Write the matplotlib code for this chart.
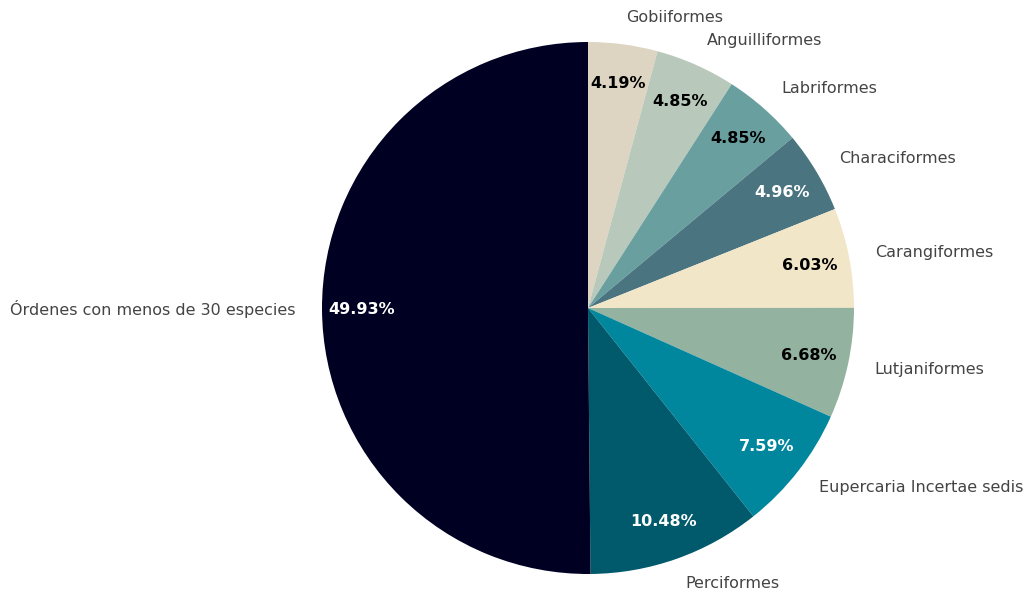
import matplotlib
matplotlib.use("Agg")
import matplotlib.pyplot as plt

plt.rcParams['font.family'] = ['DejaVu Sans']

ordenes = ['Gobiiformes', 'Anguilliformes', 'Labriformes', 'Characiformes',
           'Carangiformes', 'Lutjaniformes', 'Eupercaria Incertae sedis',
           'Perciformes', 'Órdenes con menos de 30 especies']
porcentajes = [4.19, 4.85, 4.85, 4.96, 6.03, 6.68, 7.59, 10.48, 49.93]
colores = ['#ddd5c2', '#b8c9bb', '#6a9fa0', '#4a7480', '#f2e6c8',
           '#94b2a0', '#00879e', '#005a6c', '#000022']
color_texto = ['black', 'black', 'black', 'white', 'black',
               'black', 'white', 'white', 'white']

total = sum(porcentajes)

fig = plt.figure(figsize=(10.29, 5.95), dpi=100)
ax = fig.add_axes([322 / 1029, 21 / 595, 532 / 1029, 532 / 595])

wedges, texts, autotexts = ax.pie(
    porcentajes, labels=ordenes, colors=colores, startangle=90,
    counterclock=False, pctdistance=0.85, labeldistance=1.1,
    autopct=lambda p: f"{p * total / 100:.2f}%",
    textprops={'fontsize': 11.5, 'color': '#444444'})

for t, c in zip(autotexts, color_texto):
    t.set_color(c)
    t.set_fontweight('bold')
    t.set_fontsize(11.5)

ax.set_xlim(-1, 1)
ax.set_ylim(-1, 1)
ax.set_aspect('equal')

fig.savefig('out.png', dpi=100)
